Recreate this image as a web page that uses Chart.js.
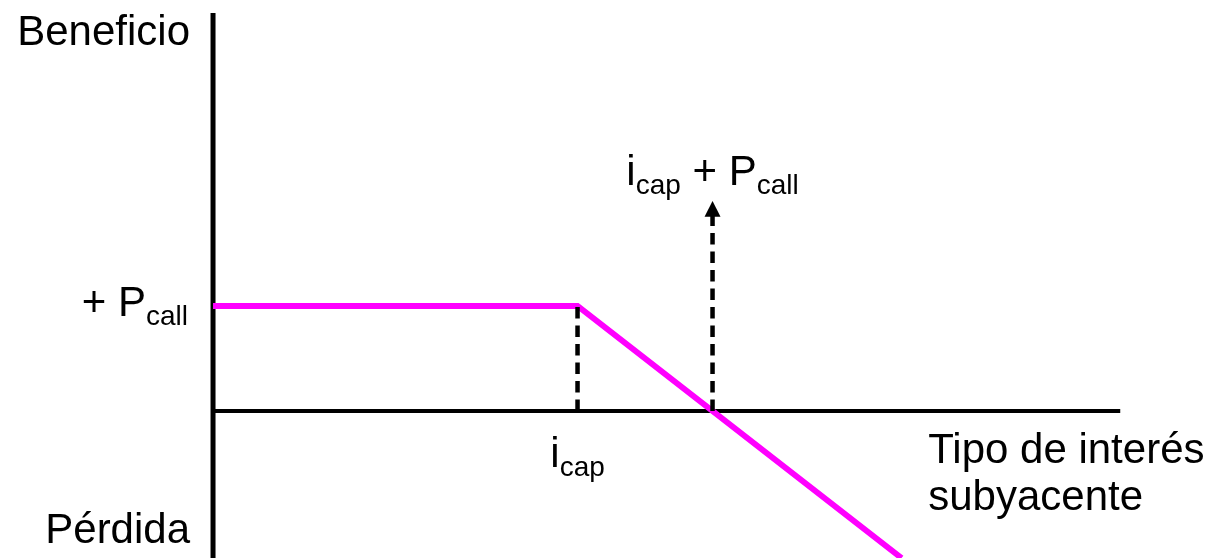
<!DOCTYPE html>
<html lang="es">
<head>
    <meta charset="UTF-8">
    <title>Cap comprado - beneficio / pérdida</title>
    <script src="https://cdn.jsdelivr.net/npm/chart.js"></script>
    <style>
        body {
            margin: 0;
            padding: 0;
            background-color: #fff;
        }

        .chart-container {
            position: relative;
            width: 1220px;
            height: 558px;
        }
    </style>
</head>
<body>
    <div class="chart-container">
        <canvas id="payoffChart"></canvas>
    </div>

    <script>
        // Values (1 unit of profit = P_call)
        const iCap = 2.7;
        const pCall = 1;
        const breakEven = 3.7;

        // payoff: +P_call flat, then falling past i_cap
        const payoffX = [0, 2.7, 5.1];
        const payoffY = [1, 1, -1.4];

        // axes
        const xAxisX = [0, 6.72];
        const xAxisY = [0, 0];
        const yAxisX = [0, 0];
        const yAxisY = [-1.4, 3.79];

        // dashed guides
        const capGuideX = [2.7, 2.7];
        const capGuideY = [0, 1];
        const arrowX = [3.7, 3.7];
        const arrowY = [0, 1.86];
        const arrowTipY = 2.0;

        // view window
        const xMin = -1.578, xMax = 7.459;
        const yMin = -1.4, yMax = 3.914;

        const FONT = '"Liberation Sans", Arial, sans-serif';
        const MAIN = 42;
        const SUB = 28;

        function pts(xs, ys) {
            return xs.map((x, i) => ({ x: x, y: ys[i] }));
        }

        // draws text with subscripts: parts = [[text, isSub], ...]
        function drawRich(ctx, parts, x, y, align) {
            let total = 0;
            parts.forEach(p => {
                ctx.font = (p[1] ? SUB : MAIN) + 'px ' + FONT;
                total += ctx.measureText(p[0]).width;
            });
            let cx = x;
            if (align === 'right') cx = x - total;
            if (align === 'center') cx = x - total / 2;
            ctx.textAlign = 'left';
            ctx.textBaseline = 'alphabetic';
            parts.forEach(p => {
                ctx.font = (p[1] ? SUB : MAIN) + 'px ' + FONT;
                ctx.fillText(p[0], cx, p[1] ? y + 9 : y);
                cx += ctx.measureText(p[0]).width;
            });
        }

        const labelPlugin = {
            id: 'labels',
            afterDatasetsDraw(chart) {
                const ctx = chart.ctx;
                const xs = chart.scales.x;
                const ys = chart.scales.y;
                const x0 = xs.getPixelForValue(0);

                ctx.save();
                ctx.fillStyle = '#000';

                // arrow head on the break-even line
                const ax = xs.getPixelForValue(arrowX[1]);
                const base = ys.getPixelForValue(arrowY[1]);
                const tip = ys.getPixelForValue(arrowTipY);
                ctx.beginPath();
                ctx.moveTo(ax, tip);
                ctx.lineTo(ax - 8, base + 1);
                ctx.lineTo(ax + 8, base + 1);
                ctx.closePath();
                ctx.fill();

                drawRich(ctx, [['Beneficio', false]], x0 - 23, ys.getPixelForValue(yAxisY[1]) + 32, 'right');
                drawRich(ctx, [['Pérdida', false]], x0 - 23, chart.chartArea.bottom - 15, 'right');
                drawRich(ctx, [['+ P', false], ['call', true]], x0 - 25, ys.getPixelForValue(pCall) + 10, 'right');
                drawRich(ctx, [['i', false], ['cap', true]], xs.getPixelForValue(iCap), ys.getPixelForValue(0) + 56, 'center');
                drawRich(ctx, [['i', false], ['cap', true], [' + P', false], ['call', true]],
                    xs.getPixelForValue(breakEven), tip - 16, 'center');

                const tx = xs.getPixelForValue(xAxisX[1]) - 192;
                const ty = ys.getPixelForValue(0) + 52;
                drawRich(ctx, [['Tipo de interés', false]], tx, ty, 'left');
                drawRich(ctx, [['subyacente', false]], tx, ty + 47, 'left');
                ctx.restore();
            }
        };

        const ctx = document.getElementById('payoffChart').getContext('2d');
        const payoffChart = new Chart(ctx, {
            type: 'line',
            data: {
                datasets: [
                    {
                        data: pts(capGuideX, capGuideY),
                        borderColor: '#000',
                        borderWidth: 4.5,
                        borderDash: [11.5, 7],
                        pointRadius: 0,
                        order: 0
                    },
                    {
                        data: pts(arrowX, arrowY),
                        borderColor: '#000',
                        borderWidth: 4.5,
                        borderDash: [11.5, 7],
                        pointRadius: 0,
                        order: 0
                    },
                    {
                        data: pts(payoffX, payoffY),
                        borderColor: '#ff00ff',
                        borderWidth: 6,
                        borderJoinStyle: 'miter',
                        pointRadius: 0,
                        order: 1
                    },
                    {
                        data: pts(xAxisX, xAxisY),
                        borderColor: '#000',
                        borderWidth: 4,
                        pointRadius: 0,
                        order: 2
                    },
                    {
                        data: pts(yAxisX, yAxisY),
                        borderColor: '#000',
                        borderWidth: 5,
                        pointRadius: 0,
                        order: 2
                    }
                ]
            },
            options: {
                responsive: true,
                maintainAspectRatio: false,
                animation: false,
                layout: { padding: 0 },
                plugins: {
                    legend: { display: false },
                    tooltip: { enabled: false }
                },
                scales: {
                    x: { type: 'linear', min: xMin, max: xMax, display: false },
                    y: { type: 'linear', min: yMin, max: yMax, display: false }
                }
            },
            plugins: [labelPlugin]
        });
    </script>
</body>
</html>
